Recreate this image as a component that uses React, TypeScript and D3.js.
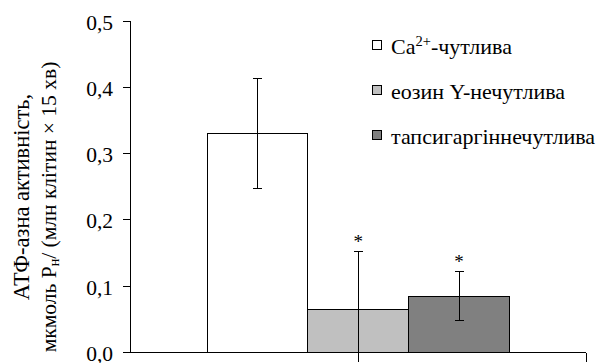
import React from "react";
import * as d3 from "d3";

const categories = [""];
const seriesNames = ["Ca2+-чутлива", "еозин Y-нечутлива", "тапсигаргіннечутлива"];
const seriesValues = [0.331, 0.065, 0.085];
const seriesErrors = [0.083, 0.087, 0.037];
const significant = [false, true, true];
const seriesColors = ["#ffffff", "#c0c0c0", "#808080"];
const yTicks = [0, 0.1, 0.2, 0.3, 0.4, 0.5];
const yTickLabels = ["0,0", "0,1", "0,2", "0,3", "0,4", "0,5"];

const W = 596;
const H = 363;
const FONT = '"Liberation Serif", "Tinos", serif';

export default function App() {
  const left = 130.5;
  const right = 586;
  const top = 21;
  const bottom = 352.5;

  const y = d3.scaleLinear().domain([0, 0.5]).range([bottom, top]);
  const x0 = d3.scaleBand<string>().domain(categories).range([left, right]).padding(0.202);
  const x1 = d3
    .scaleBand<number>()
    .domain(seriesValues.map((_, i) => i))
    .range([0, x0.bandwidth()])
    .padding(0);

  const cat = categories[0];
  const gx = x0(cat) ?? 0;
  const capW = 4.5;
  const clipBottom = 362;

  const legendY = [45.3, 90.3, 134.7];
  const ts = { fontFamily: FONT };

  return (
    <svg
      width={W}
      height={H}
      style={{ position: "absolute", left: 0, top: 0, background: "#fff", fontFamily: FONT }}
    >
      <defs>
        <clipPath id="plotclip">
          <rect x={0} y={0} width={W} height={clipBottom} />
        </clipPath>
      </defs>
      {seriesValues.map((v, i) => (
        <rect
          key={"b" + i}
          x={gx + (x1(i) ?? 0)}
          y={y(v)}
          width={x1.bandwidth()}
          height={y(0) - y(v)}
          fill={seriesColors[i]}
          stroke="#000"
          strokeWidth={1}
          shapeRendering="crispEdges"
        />
      ))}
      <g clipPath="url(#plotclip)">
        {seriesValues.map((v, i) => {
          const cx = gx + (x1(i) ?? 0) + x1.bandwidth() / 2;
          const hi = y(v + seriesErrors[i]);
          const lo = y(v - seriesErrors[i]);
          return (
            <g key={"e" + i} stroke="#000" strokeWidth={1} shapeRendering="crispEdges">
              <line x1={cx} x2={cx} y1={hi} y2={lo} />
              <line x1={cx - capW} x2={cx + capW} y1={hi} y2={hi} />
              <line x1={cx - capW} x2={cx + capW} y1={lo} y2={lo} />
            </g>
          );
        })}
      </g>
      {seriesValues.map((v, i) =>
        significant[i] ? (
          <text
            key={"s" + i}
            x={gx + (x1(i) ?? 0) + x1.bandwidth() / 2}
            y={y(v + seriesErrors[i]) - 4}
            textAnchor="middle"
            fontSize={19}
            fill="#000"
            style={ts}
          >
            *
          </text>
        ) : null
      )}
      <g stroke="#000" strokeWidth={1} shapeRendering="crispEdges">
        <line x1={left} x2={left} y1={top} y2={bottom} />
        {yTicks.map((t) => (
          <line key={"t" + t} x1={left - 8} x2={left} y1={y(t)} y2={y(t)} />
        ))}
        <line x1={left} x2={right} y1={bottom} y2={bottom} />
        <line x1={right} x2={right} y1={bottom} y2={bottom + 9} />
      </g>
      {yTicks.map((t, i) => (
        <text key={"l" + t} x={113} y={y(t) + 8.5} textAnchor="end" fontSize={21.5} fill="#000" style={ts}>
          {yTickLabels[i]}
        </text>
      ))}
      <text
        transform="translate(29,197) rotate(-90)"
        textAnchor="middle"
        fontSize={22.5}
        fill="#000"
        style={ts}
      >
        АТФ-азна активність,
      </text>
      <text
        transform="translate(56,207) rotate(-90)"
        textAnchor="middle"
        fontSize={21.5}
        fill="#000"
        style={ts}
      >
        мкмоль Р<tspan fontSize={14} dy={3}>н</tspan>
        <tspan dy={-3}>/ (млн клітин × 15 хв)</tspan>
      </text>
      {seriesNames.map((name, i) => (
        <g key={"lg" + i}>
          <rect
            x={372.5}
            y={legendY[i] - 4.5}
            width={9}
            height={9}
            fill={seriesColors[i]}
            stroke="#000"
            strokeWidth={1}
            shapeRendering="crispEdges"
          />
          <text x={391} y={legendY[i] + 9} fontSize={22} fill="#000" style={ts}>
            {i === 0 ? (
              <>
                Ca<tspan fontSize={14.5} dy={-8}>2+</tspan>
                <tspan dy={8}>-чутлива</tspan>
              </>
            ) : (
              name
            )}
          </text>
        </g>
      ))}
    </svg>
  );
}
